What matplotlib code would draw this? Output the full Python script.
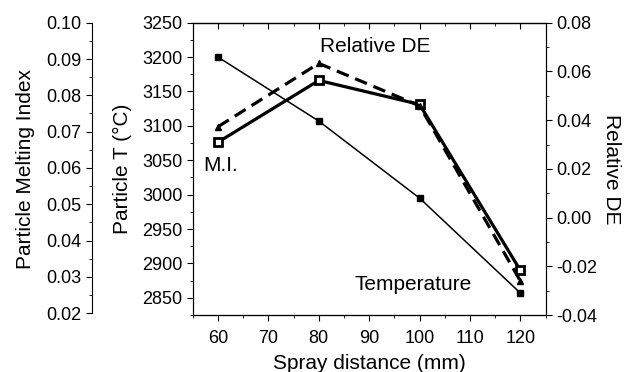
import numpy as np
import matplotlib.pyplot as plt
from matplotlib.ticker import MultipleLocator

plt.rcParams['font.family'] = ['Liberation Sans', 'DejaVu Sans']

# data
spray = [60, 80, 100, 120]
temperature = [3200, 3107, 2995, 2857]
melt_index = [0.0671, 0.0841, 0.0775, 0.0318]
rel_de = [0.0373, 0.0633, 0.0459, -0.026]

TICK = 13
LAB = 15

fig = plt.figure(figsize=(6.26, 3.72), dpi=100)
ax = fig.add_axes([0.308, 0.153, 0.5635, 0.786])

# temperature on the main axis
ax.plot(spray, temperature, color='black', lw=1.1, marker='s', ms=4, zorder=3)
ax.set_xlim(55, 125)
ax.set_ylim(2825, 3250)
ax.xaxis.set_major_locator(MultipleLocator(10))
ax.xaxis.set_minor_locator(MultipleLocator(5))
ax.yaxis.set_major_locator(MultipleLocator(50))
ax.yaxis.set_minor_locator(MultipleLocator(25))
ax.tick_params(axis='x', which='both', direction='out', labelsize=TICK, pad=7)
ax.tick_params(axis='x', which='major', length=4)
ax.tick_params(axis='x', which='minor', length=2.5)
ax.tick_params(axis='y', which='major', length=4, labelsize=TICK)
ax.tick_params(axis='y', which='minor', length=2.5)
ax.set_xticks(np.arange(60, 121, 10))
ax.set_xlabel('Spray distance (mm)', fontsize=LAB, labelpad=5)
ax.set_ylabel('Particle T (°C)', fontsize=LAB, labelpad=7)

# top axis: ticks pointing inward, no labels
top = ax.secondary_xaxis('top')
top.xaxis.set_major_locator(MultipleLocator(10))
top.xaxis.set_minor_locator(MultipleLocator(5))
top.tick_params(axis='x', which='both', direction='in', labeltop=False)
top.tick_params(axis='x', which='major', length=4)
top.tick_params(axis='x', which='minor', length=2.5)

# melting index on an offset left axis
ax2 = ax.twinx()
ax2.spines['left'].set_visible(True)
ax2.spines['left'].set_position(('axes', -0.287))
ax2.spines['right'].set_visible(False)
ax2.yaxis.set_label_position('left')
ax2.yaxis.set_ticks_position('left')
ax2.plot(spray, melt_index, color='black', lw=2.3, marker='s', ms=6,
         mfc='white', mec='black', mew=2, zorder=3)
ax2.set_ylim(0.0195, 0.10)
ax2.spines['left'].set_bounds(0.02, 0.10)
ax2.yaxis.set_minor_locator(MultipleLocator(0.005))
ax2.set_yticks(np.arange(0.02, 0.1001, 0.01))
ax2.set_yticklabels(['%.2f' % v for v in np.arange(0.02, 0.1001, 0.01)])
ax2.tick_params(axis='y', which='major', length=4, labelsize=TICK)
ax2.tick_params(axis='y', which='minor', length=2.5)
ax2.set_ylabel('Particle Melting Index', fontsize=LAB, labelpad=8)

# relative DE on the right axis
ax3 = ax.twinx()
ax3.plot(spray, rel_de, color='black', lw=2.3, ls=(0, (4, 2.2)), marker='^', ms=5, zorder=3)
ax3.set_ylim(-0.04, 0.08)
ax3.yaxis.set_major_locator(MultipleLocator(0.02))
ax3.yaxis.set_minor_locator(MultipleLocator(0.01))
ax3.yaxis.set_major_formatter(plt.FuncFormatter(lambda v, p: '%.2f' % v))
ax3.tick_params(axis='y', which='major', length=4, labelsize=TICK)
ax3.tick_params(axis='y', which='minor', length=2.5)
ax3.set_ylabel('Relative DE', fontsize=LAB, rotation=270, labelpad=17)

ax.text(80.2, 3207, 'Relative DE', fontsize=LAB)
ax.text(57, 3034, 'M.I.', fontsize=LAB)
ax.text(87, 2861, 'Temperature', fontsize=LAB)

fig.savefig('out.png', dpi=100)
